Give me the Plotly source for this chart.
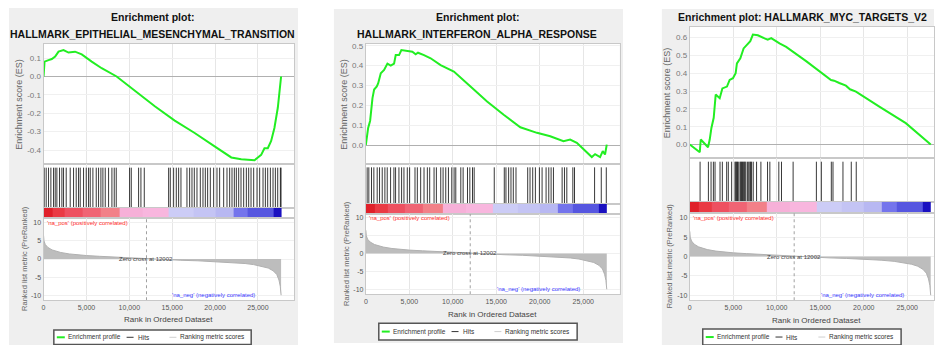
import plotly.graph_objects as go

W, H = 935, 345
FONT = "Liberation Sans"

# ---------------- data ----------------
zero_cross = 12002
x_tick_vals = [0, 5000, 10000, 15000, 20000, 25000]
metric_tick_vals = [-10, -5, 0, 5, 10]

# ranked list metric (shared by all three plots)
metric_rank = [0, 50, 200, 500, 1000, 2000, 3000, 4000, 5000, 6500, 8000, 10000, 12002,
               14000, 16000, 18000, 20000, 22000, 23500, 24500, 25500, 26200, 26800,
               27200, 27450, 27600, 27700]
metric_val = [6.5, 5.0, 4.0, 3.2, 2.5, 1.8, 1.4, 1.15, 0.95, 0.75, 0.55, 0.3, 0.0,
              -0.2, -0.35, -0.5, -0.7, -0.95, -1.25, -1.55, -2.0, -2.5, -3.3,
              -4.3, -5.8, -7.5, -10.0]

# colour bar of the ranked list
bar_edges = [0, 1000, 2500, 4500, 6600, 8900, 11500, 14550, 17500, 20000, 22100, 23800, 26800, 27700]
bar_colors = ["#e0202a", "#ea3a44", "#ee5060", "#f06474", "#f28088", "#f6b0d8", "#f8b6de",
              "#ccccf6", "#c4c4f4", "#b8b8f2", "#7474ec", "#5656e0", "#1a10c0"]

# Panel 1: EMT
title1 = ["Enrichment plot:", "HALLMARK_EPITHELIAL_MESENCHYMAL_TRANSITION"]
es1_rank = [0, 116, 581, 965, 1350, 1743, 2325, 2906, 3673, 4452, 5614, 6777, 8520, 10648,
            12972, 15297, 17622, 19948, 21889, 23050, 24600, 24990, 25375, 25760, 26150,
            26540, 26920, 27316, 27500, 27700]
es1_val = [0, 0.081, 0.089, 0.095, 0.108, 0.135, 0.144, 0.13, 0.135, 0.12, 0.081, 0.045, 0.0,
           -0.077, -0.162, -0.24, -0.307, -0.38, -0.44, -0.45, -0.455, -0.44, -0.426, -0.39,
           -0.39, -0.35, -0.28, -0.17, -0.1, 0.0]
hits1 = [74, 307, 580, 852, 1163, 1358, 1552, 1863, 2136, 2330, 2641, 3108, 3497, 3808, 4080,
         4275, 4664, 4975, 5248, 5442, 5753, 6142, 6415, 6687, 6920, 7192, 7582, 7971, 8243,
         8476, 10032, 10227, 11083, 11355, 11744, 14584, 14778, 15167, 15478, 15751, 16023,
         16723, 17034, 17307, 17579, 17890, 18279, 18590, 18863, 19135, 19446, 19835, 20224,
         20535, 21002, 21391, 21702, 21975, 22247, 22480, 22753, 23025, 23336, 23647, 23920,
         24192, 24503, 24892, 25203, 25592, 25865, 26137, 26448, 26759, 27032, 27304, 27615, 27690]
es1_ticks = [-0.4, -0.3, -0.2, -0.1, 0.0, 0.1]

# Panel 2: IFN alpha
title2 = ["Enrichment plot:", "HALLMARK_INTERFERON_ALPHA_RESPONSE"]
es2_rank = [0, 267, 496, 764, 955, 1261, 1414, 1719, 2100, 2483, 2865, 3247, 3438, 3820, 4087,
            4584, 5347, 5730, 5997, 6686, 7450, 8595, 10122, 12033, 13940, 15850, 17763,
            19676, 21200, 22725, 23490, 24258, 25017, 25980, 26360, 26932, 27240, 27500, 27700]
es2_val = [0, 0.087, 0.123, 0.237, 0.28, 0.295, 0.31, 0.362, 0.378, 0.41, 0.40, 0.41, 0.453,
           0.453, 0.478, 0.475, 0.47, 0.457, 0.465, 0.453, 0.437, 0.403, 0.37, 0.295, 0.22,
           0.153, 0.09, 0.062, 0.045, 0.02, 0.028, 0.012, -0.022, -0.06, -0.045, -0.06,
           -0.03, -0.047, 0.003]
hits2 = [153, 346, 653, 922, 1307, 1576, 1884, 2191, 2460, 2845, 3229, 3422, 3806, 4114, 4383,
         4767, 5036, 5652, 5921, 6305, 6690, 7074, 7343, 7843, 8112, 8612, 8881, 9189, 9497,
         9881, 10150, 10343, 10920, 11188, 11688, 11957, 12265, 12457, 14765, 15918, 16110,
         16418, 16687, 16956, 17264, 18609, 18878, 19186, 19494, 19955, 20263, 20724, 21032,
         21301, 21570, 22570, 22839, 23108, 23800, 23992, 26299, 27068, 27645]
es2_ticks = [0.0, 0.1, 0.2, 0.3, 0.4, 0.5]

# Panel 3: MYC targets v2
title3 = ["Enrichment plot: HALLMARK_MYC_TARGETS_V2"]
es3_rank = [0, 1146, 1261, 2097, 2292, 2487, 2750, 2980, 3438, 3747, 4275, 4584, 4962, 5272,
            5420, 5810, 6188, 6567, 6956, 7254, 7827, 8595, 8960, 9363, 10314, 11082, 13374,
            16239, 16590, 17190, 17950, 18420, 19104, 21880, 24834, 27700]
es3_val = [0, -0.043, 0.028, -0.015, 0.028, 0.093, 0.15, 0.28, 0.26, 0.315, 0.325, 0.362,
           0.372, 0.40, 0.455, 0.483, 0.539, 0.558, 0.58, 0.617, 0.613, 0.595, 0.588, 0.597,
           0.567, 0.548, 0.468, 0.362, 0.358, 0.345, 0.33, 0.31, 0.297, 0.21, 0.12, 0.0]
hits3 = [1184, 2139, 2445, 2712, 2903, 3476, 3743, 4240, 4431, 4813, 5195, 5290, 5386, 5480,
         5577, 5768, 5860, 5959, 6050, 6150, 6250, 6341, 6450, 6647, 6780, 6914, 7000, 7105,
         7296, 7678, 8175, 8939, 9206, 10237, 10543, 11880, 14554, 15127, 16273, 16464,
         17610, 18565, 19138]
es3_ticks = [0.0, 0.1, 0.2, 0.3, 0.4, 0.5, 0.6]

# ---------------- layout (pixel geometry) ----------------
panels = [
    dict(title=title1, es_rank=es1_rank, es_val=es1_val, hits=hits1, es_ticks=es1_ticks,
         bg=(7, 6, 297, 346), left=41.7, right=292.9, xmax=29200,
         es_top=42, es_bot=163, hit_bot=207, cb_bot=217, met_bot=300,
         es_range=[-0.476, 0.178], met_range=[-11.4, 11.4],
         title_y=[15, 32], title_x=151, es_tx=17, met_tx=22,
         xtitle_y=319, legend=(52, 330, 250, 344.5)),
    dict(title=title2, es_rank=es2_rank, es_val=es2_val, hits=hits2, es_ticks=es2_ticks,
         bg=(333, 7, 623, 343), left=365, right=619.8, xmax=29200,
         es_top=42, es_bot=163, hit_bot=203, cb_bot=213, met_bot=294,
         es_range=[-0.095, 0.51], met_range=[-11.4, 11.1],
         title_y=[15, 32], title_x=477, es_tx=343, met_tx=345,
         xtitle_y=314, legend=(378, 323, 577, 340)),
    dict(title=title3, es_rank=es3_rank, es_val=es3_val, hits=hits3, es_ticks=es3_ticks,
         bg=(662, 7, 935, 346), left=690, right=935, xmax=28077,
         es_top=25, es_bot=157, hit_bot=201, cb_bot=212, met_bot=300,
         es_range=[-0.076, 0.66], met_range=[-11.3, 11.3],
         title_y=[15], title_x=803, es_tx=668, met_tx=670,
         xtitle_y=320, legend=(703, 329, 902, 345)),
]


def px(x):
    return x / W


def py(y):
    return 1 - y / H


fig = go.Figure()
layout = dict(width=W, height=H, margin=dict(l=0, r=0, t=0, b=0), autosize=False,
              paper_bgcolor="white", plot_bgcolor="rgba(0,0,0,0)", showlegend=False,
              font=dict(family=FONT))
shapes = []
annotations = []

n_bar = len(bar_colors)
bar_scale = [[i / (n_bar - 1), c] for i, c in enumerate(bar_colors)]

grid_c = "#e6e6e6"
border_c = "#c8c8c8"

for i, p in enumerate(panels):
    ids = [4 * i + 1, 4 * i + 2, 4 * i + 3, 4 * i + 4]
    xn = ["x" if k == 1 else f"x{k}" for k in ids]
    yn = ["y" if k == 1 else f"y{k}" for k in ids]
    xk = ["xaxis" if k == 1 else f"xaxis{k}" for k in ids]
    yk = ["yaxis" if k == 1 else f"yaxis{k}" for k in ids]
    dom_x = [px(p["left"]), px(p["right"])]
    bands = [(p["es_top"], p["es_bot"]), (p["es_bot"], p["hit_bot"]),
             (p["hit_bot"], p["cb_bot"]), (p["cb_bot"], p["met_bot"])]

    # background shapes
    bx0, by0, bx1, by1 = p["bg"]
    shapes.append(dict(type="rect", xref="paper", yref="paper", layer="below",
                       x0=px(bx0), x1=px(bx1), y0=py(by1), y1=py(by0),
                       fillcolor="#efefef", line=dict(width=0)))
    shapes.append(dict(type="rect", xref="paper", yref="paper", layer="below",
                       x0=px(p["left"]), x1=px(p["right"]), y0=py(p["met_bot"]), y1=py(p["es_top"]),
                       fillcolor="white", line=dict(width=0)))

    for j in range(4):
        t, b = bands[j]
        xa = dict(domain=dom_x, range=[0, p["xmax"]], anchor=yn[j], tickvals=x_tick_vals,
                  showgrid=(j != 2), gridcolor=grid_c, gridwidth=1, zeroline=False,
                  showline=True, mirror=True, linecolor=border_c, linewidth=1,
                  showticklabels=(j == 3), ticks="", fixedrange=True,
                  tickformat=",d", tickfont=dict(size=7, color="#555", family=FONT))
        ya = dict(domain=[py(b), py(t)], anchor=xn[j], showline=True, mirror=True,
                  linecolor=border_c, linewidth=1, ticks="", fixedrange=True,
                  zeroline=False, showgrid=False, showticklabels=False)
        if j == 0:
            ya.update(range=p["es_range"], tickvals=p["es_ticks"],
                      ticktext=[f"{v:.1f}" for v in p["es_ticks"]], showticklabels=True,
                      showgrid=True, gridcolor="#f0f0f0", zeroline=True, zerolinecolor="#b0b0b0",
                      zerolinewidth=1, tickfont=dict(size=8, color="#777", family=FONT))
        elif j == 1:
            ya.update(range=[0, 1.09])
        elif j == 2:
            ya.update(range=[0, 1])
        else:
            ya.update(range=p["met_range"], tickvals=metric_tick_vals,
                      ticktext=[str(v) for v in metric_tick_vals], showticklabels=True,
                      showgrid=True, gridcolor="#f0f0f0",
                      tickfont=dict(size=7, color="#555", family=FONT))
        layout[xk[j]] = xa
        layout[yk[j]] = ya

    # ES curve
    fig.add_trace(go.Scatter(x=p["es_rank"], y=p["es_val"], mode="lines",
                             line=dict(color="#22ee22", width=2), xaxis=xn[0], yaxis=yn[0],
                             hoverinfo="skip"))
    # hits
    hx, hy = [], []
    for h in p["hits"]:
        hx += [h, h, None]
        hy += [0, 1, None]
    fig.add_trace(go.Scatter(x=hx, y=hy, mode="lines", line=dict(color="rgba(0,0,0,0.78)", width=1),
                             xaxis=xn[1], yaxis=yn[1], hoverinfo="skip"))
    # colour bar
    fig.add_trace(go.Heatmap(z=[list(range(n_bar))], x=bar_edges, y=[0, 1], colorscale=bar_scale,
                             zmin=0, zmax=n_bar - 1, showscale=False, xaxis=xn[2], yaxis=yn[2],
                             hoverinfo="skip"))
    # ranked list metric
    fig.add_trace(go.Scatter(x=metric_rank, y=metric_val, mode="lines", fill="tozeroy",
                             fillcolor="#bdbdbd", line=dict(color="#b0b0b0", width=1),
                             xaxis=xn[3], yaxis=yn[3], hoverinfo="skip"))
    fig.add_trace(go.Scatter(x=[zero_cross, zero_cross], y=p["met_range"], mode="lines",
                             line=dict(color="#a0a0a0", width=1, dash="dot"),
                             xaxis=xn[3], yaxis=yn[3], hoverinfo="skip"))

    # metric annotations
    annotations.append(dict(xref=xn[3], yref=yn[3], x=150, y=10, xanchor="left", yanchor="middle",
                            text="'na_pos' (positively correlated)", showarrow=False,
                            font=dict(size=6, color="#ff2a2a", family=FONT)))
    annotations.append(dict(xref=xn[3], yref=yn[3], x=24900, y=-10, xanchor="right", yanchor="middle",
                            text="'na_neg' (negatively correlated)", showarrow=False,
                            font=dict(size=6, color="#3a3aff", family=FONT)))
    annotations.append(dict(xref=xn[3], yref=yn[3], x=zero_cross, y=0, xanchor="center",
                            yanchor="middle", text=f"Zero cross at {zero_cross}", showarrow=False,
                            font=dict(size=6, color="#444", family=FONT)))

    # titles
    for line, ty in zip(p["title"], p["title_y"]):
        annotations.append(dict(xref="paper", yref="paper", x=px(p["title_x"]), y=py(ty),
                                xanchor="center", yanchor="middle", text=f"<b>{line}</b>",
                                showarrow=False, font=dict(size=10.5, color="#111", family=FONT)))
    # axis titles
    annotations.append(dict(xref="paper", yref="paper", x=px(p["es_tx"]),
                            y=py((p["es_top"] + p["es_bot"]) / 2), xanchor="center", yanchor="middle",
                            text="Enrichment score (ES)", textangle=-90, showarrow=False,
                            font=dict(size=9, color="#666", family=FONT)))
    annotations.append(dict(xref="paper", yref="paper", x=px(p["met_tx"]),
                            y=py((p["cb_bot"] + p["met_bot"]) / 2 - 1), xanchor="center", yanchor="middle",
                            text="Ranked list metric (PreRanked)", textangle=-90, showarrow=False,
                            font=dict(size=7.5, color="#666", family=FONT)))
    xc = p["left"] + 29200 * (p["right"] - p["left"]) / p["xmax"] / 2
    annotations.append(dict(xref="paper", yref="paper", x=px(xc), y=py(p["xtitle_y"]),
                            xanchor="center", yanchor="middle", text="Rank in Ordered Dataset",
                            showarrow=False, font=dict(size=8, color="#444", family=FONT)))

    # legend box
    lx0, ly0, lx1, ly1 = p["legend"]
    ym = (ly0 + ly1) / 2
    shapes.append(dict(type="rect", xref="paper", yref="paper", x0=px(lx0), x1=px(lx1),
                       y0=py(ly1), y1=py(ly0), fillcolor="white",
                       line=dict(color="#555", width=1.5), layer="above"))
    for (a, b, c, wdt) in [(3, 11, "#22ee22", 2), (73, 80, "#333", 1), (116, 123, "#cfcfcf", 1)]:
        shapes.append(dict(type="line", xref="paper", yref="paper", x0=px(lx0 + a), x1=px(lx0 + b),
                           y0=py(ym), y1=py(ym), line=dict(color=c, width=wdt), layer="above"))
    for (a, txt) in [(12.5, "Enrichment profile"), (82, "Hits"), (124.5, "Ranking metric scores")]:
        annotations.append(dict(xref="paper", yref="paper", x=px(lx0 + a), y=py(ym),
                                xanchor="left", yanchor="middle", text=txt, showarrow=False,
                                font=dict(size=6.5, color="#333", family=FONT)))

layout["shapes"] = shapes
layout["annotations"] = annotations
fig.update_layout(**layout)
fig.write_html("out.html", config={"displayModeBar": False},
               post_script="document.body.style.margin='0';document.body.style.padding='0';")
